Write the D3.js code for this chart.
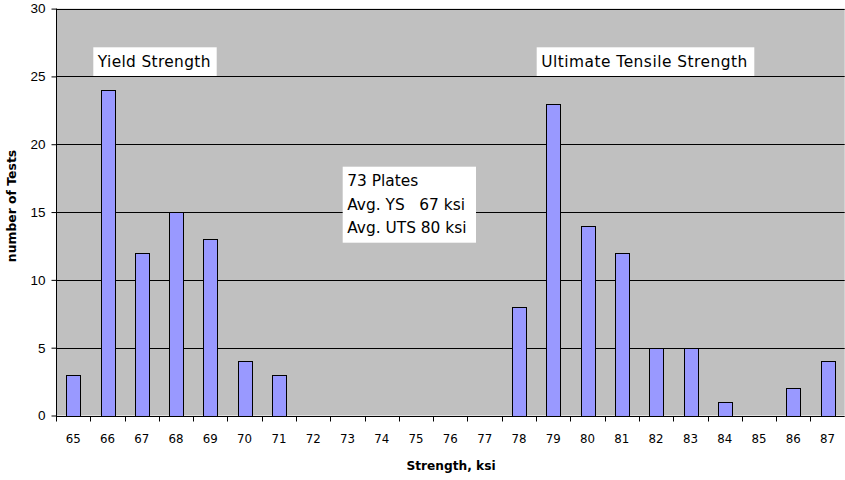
<!DOCTYPE html>
<html><head><meta charset="utf-8">
<script src="https://cdn.jsdelivr.net/npm/d3@7"></script>
<style>body{margin:0;background:#fff}text{white-space:pre}</style>
</head><body>
<svg id="c" width="845" height="480"></svg>
<script>
const categories = ["65","66","67","68","69","70","71","72","73","74","75","76","77","78","79","80","81","82","83","84","85","86","87"];
const counts = [3,24,12,15,13,4,3,0,0,0,0,0,0,8,23,14,12,5,5,1,0,2,4];
const yTicks = [0,5,10,15,20,25,30];
const notes = [
  {lines:["Yield Strength"], x0:93.3, x1:216.7, y0:47.3, y1:76, ls:0.35},
  {lines:["Ultimate Tensile Strength"], x0:536.7, x1:754.3, y0:47.3, y1:76, ls:0.5},
  {lines:["73 Plates","Avg. YS   67 ksi","Avg. UTS 80 ksi"], x0:342.7, x1:476, y0:166.7, y1:242.7, ls:0}
];

const svg = d3.select("#c");
const L=56, R=844.7, T=8.6, B=415.5;
const x = d3.scaleBand().domain(categories).range([L,R]).paddingInner(0).paddingOuter(0);
const y = d3.scaleLinear().domain([0,30]).range([B,T]);

svg.append("rect").attr("x",L).attr("y",T).attr("width",R-L).attr("height",B-T).attr("fill","#c0c0c0");

// grid
svg.append("g").selectAll("line").data(yTicks.filter(d=>d>0)).join("line")
  .attr("x1",L).attr("x2",R).attr("y1",d=>Math.round(y(d))+0.5).attr("y2",d=>Math.round(y(d))+0.5)
  .attr("stroke","#000").attr("stroke-width",1);

// bars
const bw = x.bandwidth()*0.4;
svg.append("g").selectAll("rect").data(categories.map((c,i)=>({c,v:counts[i]})).filter(d=>d.v>0)).join("rect")
  .attr("x",d=>Math.round(x(d.c)+x.bandwidth()/2-bw/2)+0.5)
  .attr("y",d=>Math.round(y(d.v))+0.5)
  .attr("width",Math.round(bw))
  .attr("height",d=>Math.round(B)-Math.round(y(d.v)))
  .attr("fill","#9999ff").attr("stroke","#000").attr("stroke-width",1);

// axes
const ya = d3.axisLeft(y).tickValues(yTicks).tickSize(5).tickPadding(6);
const yg = svg.append("g").attr("transform",`translate(${L+0.5},0)`).call(ya);
yg.select(".domain").remove();
yg.append("line").attr("x1",0).attr("x2",0).attr("y1",T).attr("y2",B+0.5).attr("stroke","#000");
yg.selectAll("text").attr("font-family","Liberation Sans, Arial, sans-serif").attr("font-size",13.5).attr("fill","#000");

const xa = d3.axisBottom(x).tickSize(0).tickPadding(18);
const xg = svg.append("g").attr("transform",`translate(0,${Math.round(B)+0.5})`).call(xa);
xg.select(".domain").remove();
xg.append("line").attr("x1",L).attr("x2",R).attr("stroke","#000");
xg.selectAll("text").attr("font-family","DejaVu Sans, sans-serif").attr("font-size",11.8).attr("fill","#000");
const bounds = categories.map(c=>x(c)).concat([R]);
xg.selectAll(".bt").data(bounds).join("line").attr("class","bt")
  .attr("x1",d=>Math.round(d)+0.5).attr("x2",d=>Math.round(d)+0.5).attr("y1",0).attr("y2",5).attr("stroke","#000");

// axis titles
svg.append("text").attr("x",451).attr("y",470).attr("text-anchor","middle")
  .attr("font-family","DejaVu Sans, sans-serif").attr("font-weight","bold").attr("font-size",12.2).text("Strength, ksi");
svg.append("text").attr("transform",`translate(15.5,206) rotate(-90)`).attr("text-anchor","middle")
  .attr("font-family","DejaVu Sans, sans-serif").attr("font-weight","bold").attr("font-size",12.4).text("number of Tests");

// notes
const ng = svg.append("g");
notes.forEach(n=>{
  ng.append("rect").attr("x",n.x0).attr("y",n.y0).attr("width",n.x1-n.x0).attr("height",n.y1-n.y0).attr("fill","#fff");
  n.lines.forEach((t,i)=>{
    ng.append("text").attr("x",n.x0+4.5).attr("y",n.y0+19.7+i*23.3)
      .attr("font-family","DejaVu Sans, sans-serif").attr("font-size",15.4).attr("letter-spacing",n.ls).attr("fill","#000").text(t);
  });
});
</script>
</body></html>
